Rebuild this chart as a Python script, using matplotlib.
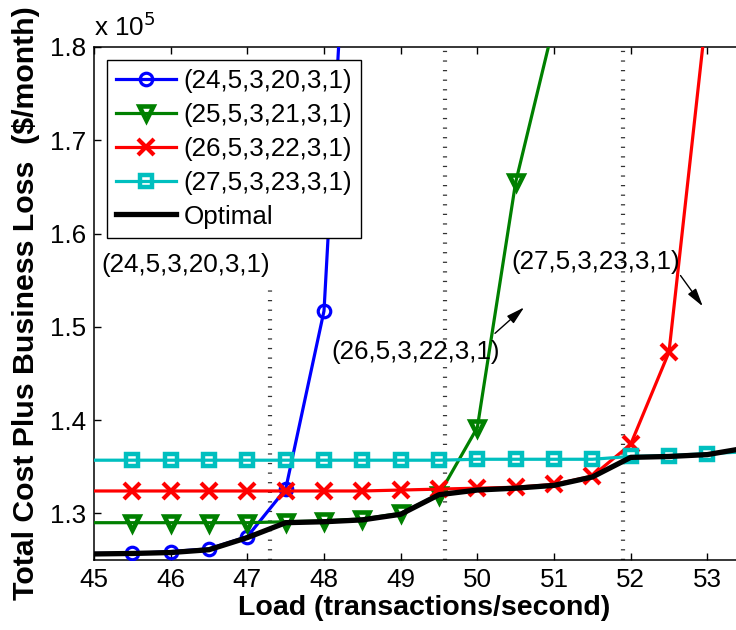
import matplotlib
matplotlib.use('Agg')
import matplotlib.pyplot as plt
import numpy as np

plt.rcParams['font.family'] = ['Liberation Sans', 'DejaVu Sans']

# load points (transactions/second), values in units of 1e5 $/month
load = [45, 45.5, 46, 46.5, 47, 47.5, 48, 48.5, 49, 49.5, 50, 50.5, 51, 51.5, 52, 52.5, 53, 53.5]

cfg24 = [1.257, 1.257, 1.259, 1.262, 1.275, 1.326, 1.517, 2.260]
cfg25 = [1.290, 1.290, 1.290, 1.290, 1.290, 1.291, 1.292, 1.294, 1.300, 1.320, 1.392, 1.655, 1.825, 2.100]
cfg26 = [1.324, 1.324, 1.324, 1.324, 1.324, 1.324, 1.324, 1.324, 1.325, 1.326, 1.327, 1.328, 1.331, 1.340,
         1.374, 1.473, 1.845]
cfg27 = [1.357, 1.357, 1.357, 1.357, 1.357, 1.357, 1.357, 1.357, 1.357, 1.357, 1.358, 1.358, 1.358, 1.358,
         1.361, 1.362, 1.364, 1.366]
optimal = [1.2565, 1.257, 1.258, 1.261, 1.274, 1.290, 1.291, 1.293, 1.299, 1.320, 1.325, 1.327, 1.330, 1.339,
           1.360, 1.361, 1.363, 1.370]

labels = ['(24,5,3,20,3,1)', '(25,5,3,21,3,1)', '(26,5,3,22,3,1)', '(27,5,3,23,3,1)', 'Optimal']

# switch-over loads (dotted lines) and their top ends
switch_x = [47.30, 49.58, 51.90]
switch_top = [1.539, 1.8, 1.8]

fig = plt.figure(figsize=(7.36, 6.3), dpi=100)
ax = fig.add_axes([94/736, 70/630, 690/736, 513/630])

fs = 18.7
for xv, top in zip(switch_x, switch_top):
    ax.plot([xv, xv], [1.25, top], color='0.2', lw=3.0, ls=(0, (0.3, 2.0)), zorder=1,
            solid_capstyle='butt', dash_capstyle='butt')

ax.plot(load[:len(cfg24)], cfg24, color='b', lw=2.3, marker='o', ms=9, mfc='none', mew=2.3,
        markevery=slice(1, None), label=labels[0], zorder=3)
ax.plot(load[:len(cfg25)], cfg25, color=(0, 0.5, 0), lw=2.3, marker='v', ms=10, mfc='none', mew=3.3,
        markevery=slice(1, None), label=labels[1], zorder=3)
ax.plot(load[:len(cfg26)], cfg26, color='r', lw=2.3, marker='x', ms=11, mew=3,
        markevery=slice(1, None), label=labels[2], zorder=3)
ax.plot(load[:len(cfg27)], cfg27, color=(0, 0.75, 0.75), lw=2.3, marker='s', ms=8, mfc='none', mew=3.2,
        markevery=slice(1, None), label=labels[3], zorder=3)
ax.plot(load, optimal, color='k', lw=3.8, label=labels[4], zorder=4)

ax.set_xlim(45, 54)
ax.set_ylim(1.25, 1.8)
ax.set_xticks(np.arange(45, 54))
ax.set_yticks([1.3, 1.4, 1.5, 1.6, 1.7, 1.8])
ax.set_yticklabels(['1.3', '1.4', '1.5', '1.6', '1.7', '1.8'])
ax.tick_params(direction='in', top=True, right=True, length=5, width=1, labelsize=fs, pad=6)
for sp in ax.spines.values():
    sp.set_linewidth(1.1)

ax.set_xlabel('Load (transactions/second)', fontsize=20.5, fontweight='bold')
ax.xaxis.set_label_coords((424 - 94) / 690, -0.068)
ax.xaxis.label.set_va('top')
ax.set_ylabel('Total Cost Plus Business Loss  ($/month)', fontsize=21.8, fontweight='bold')
ax.yaxis.set_label_coords(-(94 - 26) / 690, 0.5)
ax.yaxis.label.set_va('center')

ax.text(0.0, 1.012, r'x 10$^5$', transform=ax.transAxes, fontsize=fs, ha='left', va='bottom')

ax.text(45.10, 1.566, labels[0], fontsize=fs, ha='left', va='center')
ax.text(48.10, 1.4726, labels[2], fontsize=fs, ha='left', va='center')
ax.text(50.45, 1.5693, labels[3], fontsize=fs, ha='left', va='center')
arrow = dict(arrowstyle='-|>,head_length=1.1,head_width=0.3', color='k', lw=1.0, shrinkA=0, shrinkB=0)
ax.annotate('', xy=(50.61, 1.5208), xytext=(50.23, 1.493), arrowprops=arrow)
ax.annotate('', xy=(52.94, 1.522), xytext=(52.65, 1.555), arrowprops=arrow)

leg = ax.legend(loc='upper left', fontsize=fs, handlelength=2.3, handletextpad=0.3,
                labelspacing=0.38, borderpad=0.35, borderaxespad=0.5, fancybox=False,
                edgecolor='k', framealpha=1)
leg.get_frame().set_linewidth(1.0)

fig.savefig('out.png', dpi=100)
